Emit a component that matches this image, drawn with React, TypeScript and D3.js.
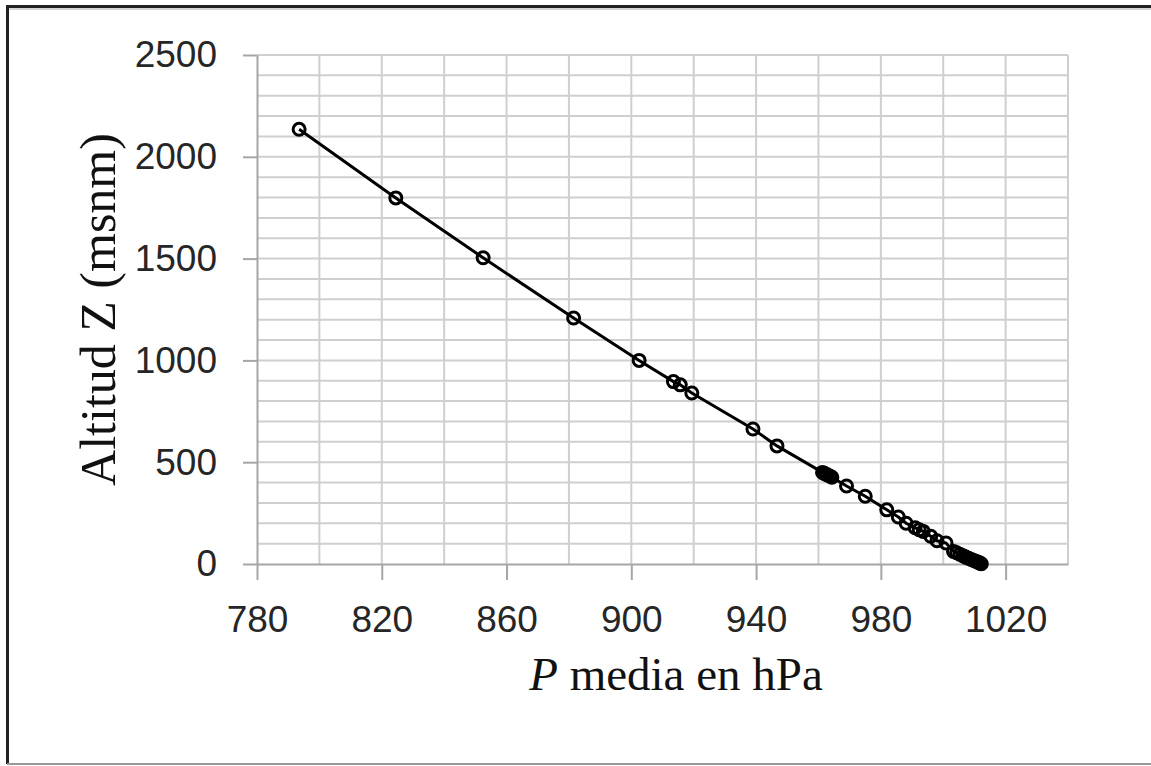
import React, { useRef, useEffect } from "react";
import * as d3 from "d3";

// presión media (hPa) y altitud (msnm)
const pressure = [
  793.5, 824.5, 852.5, 881.5, 902.5, 913.5, 915.7, 919.4, 939, 946.7,
  961.3, 962, 962.8, 963.6, 964.3, 969, 975, 981.9, 985.6, 988.1,
  991, 992.3, 993.6, 996, 998, 1000.9, 1003.3, 1004.3, 1005.3, 1006.3,
  1007.2, 1008.1, 1009, 1009.8, 1010.6, 1011.3, 1011.8, 1012.2,
];
const altitude = [
  2135, 1798, 1504, 1208, 1000, 896, 880, 840, 663, 580,
  450, 444, 438, 432, 426, 383, 333, 266, 231, 200,
  178, 168, 160, 136, 114, 103, 62, 55, 48, 41,
  34, 28, 22, 17, 12, 8, 4, 1,
];
const xTicks = [780, 820, 860, 900, 940, 980, 1020];
const yTicks = [0, 500, 1000, 1500, 2000, 2500];

const W = 1151;
const H = 766;
const margin = { top: 55, right: 83, bottom: 202, left: 257 };

const App = () => {
  const svgRef = useRef<SVGSVGElement>(null);

  useEffect(() => {
    const root = d3.select(svgRef.current);
    root.selectAll("*").remove();

    root.append("rect").attr("width", W).attr("height", H).attr("fill", "#fff");

    // marco
    root.append("line").attr("x1", 7.5).attr("x2", 7.5).attr("y1", 6).attr("y2", 764)
      .attr("stroke", "#222").attr("stroke-width", 3);
    root.append("line").attr("x1", 6).attr("x2", W).attr("y1", 6.5).attr("y2", 6.5)
      .attr("stroke", "#222").attr("stroke-width", 3);
    root.append("line").attr("x1", 9).attr("x2", W).attr("y1", 9).attr("y2", 9)
      .attr("stroke", "#aaa").attr("stroke-width", 1);
    root.append("line").attr("x1", 7).attr("x2", W).attr("y1", 764).attr("y2", 764)
      .attr("stroke", "#999").attr("stroke-width", 2);

    const innerWidth = W - margin.left - margin.right;
    const innerHeight = H - margin.top - margin.bottom;

    const svg = root.append("g")
      .attr("transform", `translate(${margin.left}, ${margin.top})`);

    const xScale = d3.scaleLinear().domain([780, 1040]).range([0, innerWidth]);
    const yScale = d3.scaleLinear().domain([0, 2500]).range([innerHeight, 0]);

    const gridColor = "#cfcfcf";

    // rejilla
    svg.append("g")
      .selectAll("line")
      .data(d3.range(800, 1041, 20))
      .enter()
      .append("line")
      .attr("x1", d => xScale(d)).attr("x2", d => xScale(d))
      .attr("y1", 0).attr("y2", innerHeight)
      .attr("stroke", gridColor).attr("stroke-width", 2);

    svg.append("g")
      .selectAll("line")
      .data(d3.range(100, 2501, 100))
      .enter()
      .append("line")
      .attr("x1", 0).attr("x2", innerWidth)
      .attr("y1", d => yScale(d)).attr("y2", d => yScale(d))
      .attr("stroke", gridColor).attr("stroke-width", 2);

    const tickFont = "'Liberation Sans', Arial, sans-serif";

    const xAxis = d3.axisBottom(xScale).tickValues(xTicks).tickSize(16).tickSizeOuter(0)
      .tickPadding(26).tickFormat(d3.format("d"));
    const yAxis = d3.axisLeft(yScale).tickValues(yTicks).tickSize(14).tickSizeOuter(0)
      .tickPadding(26).tickFormat(d3.format("d"));

    const gx = svg.append("g")
      .attr("transform", `translate(0, ${innerHeight})`)
      .call(xAxis);
    const gy = svg.append("g").call(yAxis);

    [gx, gy].forEach(g => {
      g.select(".domain").attr("stroke", "#a6a6a6").attr("stroke-width", 2);
      g.selectAll(".tick line").attr("stroke", "#a6a6a6").attr("stroke-width", 2);
      g.selectAll("text")
        .attr("fill", "#262626")
        .style("font-family", tickFont)
        .style("font-size", "37px");
    });

    // línea y marcadores
    const pts = pressure.map((p, i) => [p, altitude[i]] as [number, number]);

    const line = d3.line<[number, number]>()
      .x(d => xScale(d[0]))
      .y(d => yScale(d[1]));

    svg.append("path")
      .datum(pts)
      .attr("d", line)
      .attr("fill", "none")
      .attr("stroke", "#000")
      .attr("stroke-width", 3);

    svg.selectAll(".pt")
      .data(pts)
      .enter()
      .append("circle")
      .attr("class", "pt")
      .attr("cx", d => xScale(d[0]))
      .attr("cy", d => yScale(d[1]))
      .attr("r", 6)
      .attr("fill", "none")
      .attr("stroke", "#000")
      .attr("stroke-width", 3);

    // títulos
    const serif = "'Liberation Serif', 'Times New Roman', serif";

    root.append("text")
      .attr("transform", `translate(115, ${margin.top + innerHeight / 2}) rotate(-90)`)
      .attr("text-anchor", "middle")
      .style("font-family", serif)
      .style("font-size", "50px")
      .attr("fill", "#111")
      .text("Altitud Z (msnm)");

    const xt = root.append("text")
      .attr("x", 676)
      .attr("y", 690)
      .attr("text-anchor", "middle")
      .style("font-family", serif)
      .style("font-size", "47px")
      .attr("fill", "#111");
    xt.append("tspan").style("font-style", "italic").text("P");
    xt.append("tspan").text(" media en hPa");
  }, []);

  return (
    <div style={{ position: "absolute", left: 0, top: 0 }}>
      <svg ref={svgRef} width={W} height={H} style={{ display: "block" }}></svg>
    </div>
  );
};

export default App;
